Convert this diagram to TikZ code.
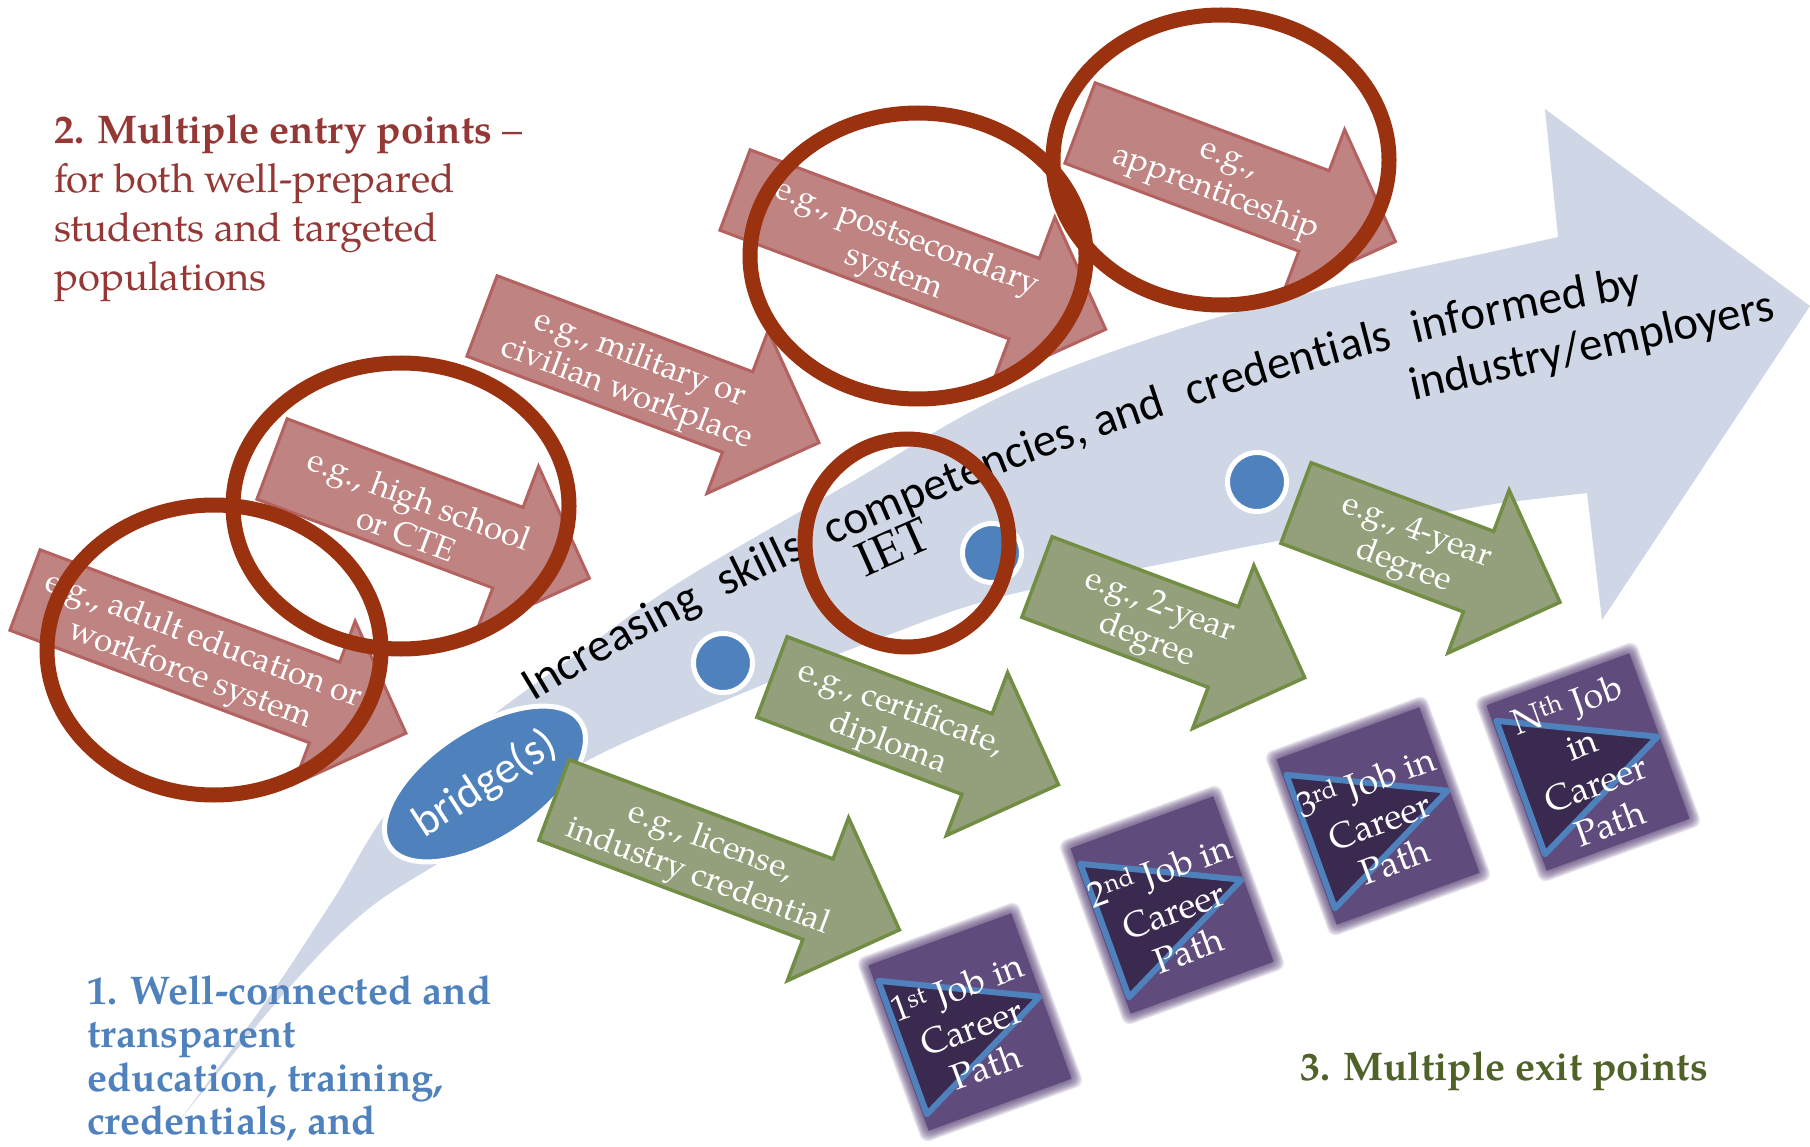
\documentclass[tikz,border=0pt]{standalone}
\usepackage{fontspec}
\setmainfont{texgyrepagella}[Extension=.otf, UprightFont=*-regular, BoldFont=*-bold, ItalicFont=*-italic, BoldItalicFont=*-bolditalic]
\newfontfamily\carl{Carlito}
\usetikzlibrary{decorations.text,shapes.geometric}

\definecolor{bandblue}{RGB}{207,215,230}
\definecolor{pinkfill}{RGB}{191,131,130}
\definecolor{pinkline}{RGB}{180,98,96}
\definecolor{greenfill}{RGB}{148,160,123}
\definecolor{greenline}{RGB}{114,142,68}
\definecolor{circred}{RGB}{154,50,16}
\definecolor{dotblue}{RGB}{79,129,189}
\definecolor{boxpurple}{RGB}{96,75,125}
\definecolor{tripurple}{RGB}{58,42,80}
\definecolor{headred}{RGB}{149,55,53}
\definecolor{headblue}{RGB}{79,129,189}
\definecolor{headgreen}{RGB}{79,98,40}

\tikzset{
  pinkarrow/.style={fill=pinkfill, draw=pinkline, line width=3pt},
  greenarrow/.style={fill=greenfill, draw=greenline, line width=3.5pt},
  arrowtext/.style={text=white, font=\fontsize{33}{37}\selectfont, align=center, inner sep=0pt},
  ringnode/.style={ellipse, draw=circred, line width=15pt, inner sep=0pt},
  bluedot/.style={circle, fill=dotblue, draw=white, line width=5pt, minimum size=59pt, inner sep=0pt},
  jobtext/.style={text=white, font=\fontsize{36}{42}\selectfont, align=center, inner sep=0pt},
}

\newcommand{\flowarrow}[6]{%
  \begin{scope}[shift={#2}, rotate=-20.6]
    \path[#4] (0,-43) -- (#3,-43) -- (#3,-87) -- ({#3+87},0) -- (#3,87) -- (#3,43) -- (0,43) -- cycle;
    \node[arrowtext, rotate=-20.6] (#1) at (#5,4) {#6};
  \end{scope}}

\newcommand{\jobbox}[4]{%
  \begin{scope}[shift={#2}, rotate=20]
    \foreach \k in {10,9,...,1} \fill[boxpurple, opacity=0.13, rounded corners=8pt] (-76-\k,-88-\k) rectangle (76+\k,88+\k);
    \fill[boxpurple] (-76,-88) rectangle (76,88);
    \filldraw[fill=tripurple, draw=dotblue, line width=6pt, line join=round] (-72,-70) -- (74,0) -- (-72,72) -- cycle;
    \node[jobtext, rotate=20] (#1) at (0,#3) {#4};
  \end{scope}}

\begin{document}
\begin{tikzpicture}[x=1pt, y=-1pt]
\useasboundingbox (0,0) rectangle (1810,1147);
\fill[white] (0,0) rectangle (1810,1147);

% big curved arrow
\fill[bandblue] plot[smooth, tension=0.6] coordinates {(180,1120) (267,1000) (333,900) (395,802) (483,723) (583,650) (683,580) (850,483) (1000,397) (1167,333) (1333,287) (1500,250) (1558,237)}
  -- (1545,109) -- (1810,306) -- (1602,620) -- (1587,493)
  -- plot[smooth, tension=0.6] coordinates {(1500,503) (1283,540) (1167,563) (1000,597) (883,637) (750,690) (583,763) (462,848) (367,910) (287,990) (180,1120)} -- cycle;

% entry arrows
\flowarrow{adult}{(25,590)}{320}{pinkarrow}{185}{e.g., adult education or\\workforce system}
\flowarrow{hs}{(272,459)}{252}{pinkarrow}{152}{e.g., high school\\or CTE}
\flowarrow{mil}{(482,316)}{273}{pinkarrow}{163}{e.g., military or\\civilian workplace}
\flowarrow{post}{(735,190)}{309}{pinkarrow}{178}{e.g., postsecondary\\system}
\flowarrow{appr}{(1080,123)}{250}{pinkarrow}{152}{e.g.,\\apprenticeship}

% bridge and dots
\node[ellipse, fill=dotblue, draw=white, line width=5pt, minimum width=198pt, minimum height=112pt, rotate=33, text=white, font=\carl\fontsize{45}{45}\selectfont, inner sep=0pt] (bridge) at (485,784) {bridge(s)};
\node[bluedot] (d1) at (723,663) {};
\node[bluedot] (d2) at (992,553) {};
\node[bluedot] (d3) at (1257,482) {};

% exit arrows
\flowarrow{lic}{(554,800)}{282}{greenarrow}{162}{e.g., license,\\industry credential}
\flowarrow{cert}{(772,677)}{219}{greenarrow}{132}{e.g., certificate,\\diploma}
\flowarrow{two}{(1037,577)}{199}{greenarrow}{125}{e.g., 2-year\\degree}
\flowarrow{four}{(1296,503)}{195}{greenarrow}{123}{e.g., 4-year\\degree}

% text along the big arrow
\path[decorate, decoration={text along path, text={|\carl\fontsize{47}{47}\selectfont|Increasing {\kern14pt}skills {\kern16pt}competencies, and {\kern14pt}credentials {\kern12pt}informed by}}]
  (533,702) .. controls (750,570) and (1150,380) .. (1625,300) -- (1800,270);
\node[font=\carl\fontsize{47}{47}\selectfont, rotate=12.5, anchor=base, inner sep=0pt] (ind) at (1595,360) {industry/employers};
\node[font=\fontsize{48}{48}\selectfont, rotate=24, inner sep=0pt] (iet) at (893,547) {IET};

% job boxes
\jobbox{j1}{(970,1022)}{5}{1\textsuperscript{st} Job in\\Career\\Path}
\jobbox{j2}{(1172,905)}{5}{2\textsuperscript{nd} Job in\\Career\\Path}
\jobbox{j3}{(1378,816)}{5}{3\textsuperscript{rd} Job in\\Career\\Path}
\jobbox{jn}{(1588,762)}{1}{N\textsuperscript{th} Job\\in\\Career\\Path}

% red rings
\node[ringnode, minimum width=334pt, minimum height=290pt] (c1) at (214,650) {};
\node[ringnode, minimum width=336pt, minimum height=286pt] (c2) at (401,506) {};
\node[ringnode, minimum width=336pt, minimum height=286pt] (c3) at (918,256) {};
\node[ringnode, minimum width=336pt, minimum height=290pt] (c4) at (1221,160) {};
\node[ringnode, minimum width=204pt, minimum height=208pt] (c5) at (907,543) {};

% headings
\node[anchor=north west, align=left, text=headred, font=\fontsize{40}{49}\selectfont, inner sep=0pt] (h2) at (54,115)
  {\textbf{2. Multiple entry points} \textendash\\for both well-prepared\\students and targeted\\populations};
\node[anchor=north west, align=left, text=headblue, font=\fontsize{40}{43.5}\selectfont\bfseries, inner sep=0pt] (h1) at (87,975)
  {1. Well-connected and\\transparent\\education, training,\\credentials, and};
\node[anchor=base west, text=headgreen, font=\fontsize{40}{40}\selectfont\bfseries, inner sep=0pt] (h3) at (1300,1080) {3. Multiple exit points};
\end{tikzpicture}
\end{document}
